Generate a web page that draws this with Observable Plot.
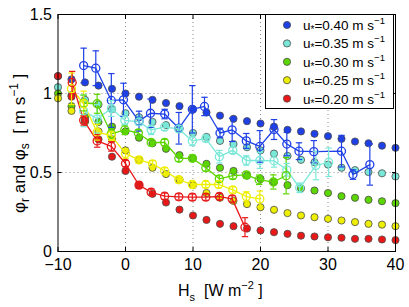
<!DOCTYPE html>
<html><head><meta charset="utf-8">
<script src="https://cdn.jsdelivr.net/npm/d3@7"></script>
<script src="https://cdn.jsdelivr.net/npm/@observablehq/plot@0.6"></script>
<style>body{margin:0;background:#fff} svg{display:block}</style>
</head><body><div id="chart"></div>
<script>
// ---- data ----
const series = ["0.40", "0.35", "0.30", "0.25", "0.20"];
const colors = ["#1e40e6", "#7ae8d8", "#5cd600", "#eeee00", "#e81818"];
const hsGrid = [-10,-8,-6,-4,-2,0,2,4,6,8,10,12,14,16,18,20,22,24,26,28,30,32,34,36,38,40];
const xTicks = [-10, 0, 10, 20, 30, 40];
const yTicks = [0, 0.5, 1, 1.5];

// filled dots (phi_r)
const phiR040 = [1.11,1.09,1.07,1.05,1.03,1.00,0.98,0.96,0.94,0.92,0.90,0.88,0.86,0.84,0.825,0.81,0.79,0.77,0.76,0.745,0.73,0.713,0.696,0.685,0.67,0.656];
const phiR035 = [1.04,0.99,0.96,0.93,0.90,0.875,0.85,0.82,0.80,0.775,0.75,0.725,0.70,0.68,0.66,0.64,0.62,0.605,0.58,0.565,0.55,0.53,0.515,0.503,0.495,0.475];
const phiR030 = [1.00,0.92,0.85,0.82,0.79,0.76,0.72,0.685,0.65,0.61,0.59,0.555,0.53,0.51,0.48,0.46,0.44,0.42,0.40,0.386,0.37,0.35,0.34,0.327,0.318,0.306];
const phiR025 = [0.97,0.89,0.82,0.76,0.71,0.64,0.58,0.53,0.49,0.455,0.42,0.37,0.34,0.32,0.30,0.28,0.264,0.243,0.228,0.217,0.207,0.196,0.186,0.175,0.17,0.16];
const phiR020 = [1.11,0.98,0.83,0.71,0.60,0.51,0.42,0.365,0.31,0.265,0.228,0.20,0.175,0.16,0.145,0.133,0.122,0.112,0.10,0.095,0.09,0.087,0.08,0.08,0.076,0.072];

// open circles with error bars (phi_s)
const sX040 = [-6.2,-4.4,-2.1,-0.3,2,3.7,5.8,7.9,9.9,11.7,14,15.8,17.9,19.9,22,23.9,25.7,27.9,32,33.7,36.2];
const sY040 = [1.177,1.16,0.956,0.96,0.825,0.875,0.87,0.78,0.90,0.918,0.75,0.77,0.70,0.665,0.772,0.68,0.635,0.632,0.635,0.487,0.55];
const sE040 = [0.11,0.11,0.17,0.105,0.063,0.09,0.03,0.10,0.15,0.058,0.03,0.074,0.047,0.10,0.063,0.074,0.053,0.07,0.10,0.03,0.13];
const sX035 = [-6.2,-4.2,-2.1,-0.1,2,3.8,5.8,7.9,9.9,11.9,13.9,15.9,17.9,19.9,22,23.9,25.8,28.2,30.1];
const sY035 = [0.89,0.84,0.905,0.83,0.82,0.77,0.787,0.776,0.70,0.715,0.60,0.64,0.576,0.576,0.574,0.517,0.403,0.544,0.565];
const sE035 = [0.10,0.09,0.05,0.03,0.02,0.03,0.02,0.02,0.03,0.02,0.04,0.02,0.03,0.05,0.04,0.04,0.03,0.09,0.09];
const sX030 = [-6.2,-4.2,-2.1,-0.1,1.9,3.8,5.8,7.9,9.9,11.9,13.9,15.9,17.9,19.8,21.9,23.8];
const sY030 = [0.94,0.935,0.745,0.77,0.75,0.69,0.69,0.59,0.59,0.53,0.46,0.48,0.485,0.454,0.44,0.48];
const sE030 = [0.05,0.06,0.03,0.03,0.02,0.02,0.02,0.02,0.02,0.02,0.02,0.02,0.02,0.03,0.045,0.115];
const sX025 = [-8,-6.2,-4.2,-2.1,0,2,4,5.8,7.9,9.9,11.9,13.8,15.9,17.9,19.9];
const sY025 = [1.03,0.935,0.755,0.734,0.62,0.58,0.555,0.51,0.454,0.424,0.424,0.424,0.39,0.348,0.333];
const sE025 = [0.10,0.08,0.05,0.03,0.03,0.02,0.02,0.02,0.02,0.02,0.02,0.02,0.02,0.03,0.05];
const sX020 = [-7.9,-6.2,-4.2,-2.1,0,2,3.8,5.8,7.9,9.9,11.9,13.9,15.8,17.7];
const sY020 = [1.07,0.83,0.70,0.665,0.557,0.42,0.375,0.35,0.346,0.344,0.344,0.348,0.333,0.154];
const sE020 = [0.07,0.03,0.04,0.03,0.02,0.02,0.02,0.02,0.02,0.02,0.02,0.02,0.02,0.06];

// ---- tables ----
const phiR = [phiR040, phiR035, phiR030, phiR025, phiR020];
const sX = [sX040, sX035, sX030, sX025, sX020];
const sY = [sY040, sY035, sY030, sY025, sY020];
const sE = [sE040, sE035, sE030, sE025, sE020];
const filled = series.flatMap((s, i) => hsGrid.map((x, j) => ({s, x, y: phiR[i][j]})));
const lines = series.flatMap((s, i) => sX[i].map((x, j) => ({s, x, y: sY[i][j], e: sE[i][j]})));

const cap = {draw(ctx, size) { const r = Math.sqrt(size / Math.PI); ctx.moveTo(-r, 0); ctx.lineTo(r, 0); }};
const gridStyle = {stroke: "#8c8c8c", strokeOpacity: 1, strokeWidth: 1, strokeDasharray: "1,3"};
const FONT = "'Liberation Sans', Arial, sans-serif";

const plot = Plot.plot({
  width: 409, height: 307,
  marginLeft: 57.5, marginRight: 14, marginTop: 14, marginBottom: 56,
  x: {domain: [-10, 40]},
  y: {domain: [0, 1.5]},
  color: {type: "ordinal", domain: series, range: colors},
  style: {fontFamily: FONT, fontSize: "16px", color: "#000", background: "#fff", overflow: "visible"},
  marks: [
    Plot.gridX(xTicks.slice(1, -1), gridStyle),
    Plot.gridY(yTicks.slice(1, -1), gridStyle),
    Plot.dot(filled, {x: "x", y: "y", fill: "s", stroke: "#4a4a4a", strokeWidth: 0.8, r: 3.6}),
    Plot.line(lines, {x: "x", y: "y", z: "s", stroke: "s", strokeWidth: 1.3}),
    Plot.ruleX(lines, {x: "x", y1: d => d.y - d.e, y2: d => d.y + d.e, stroke: "s", strokeWidth: 1.2}),
    Plot.dot(lines, {x: "x", y: d => d.y + d.e, symbol: cap, r: 3.2, stroke: "s", fill: "none", strokeWidth: 1.2}),
    Plot.dot(lines, {x: "x", y: d => d.y - d.e, symbol: cap, r: 3.2, stroke: "s", fill: "none", strokeWidth: 1.2}),
    Plot.dot(lines, {x: "x", y: "y", stroke: "s", fill: "none", r: 4, strokeWidth: 1.3}),
    Plot.frame({stroke: "#000", strokeWidth: 1}),
    Plot.axisX({ticks: xTicks, tickSize: -4, tickPadding: 11, tickFormat: d => d < 0 ? "\u2212" + Math.abs(d) : String(d), label: null, fontSize: 16}),
    Plot.axisX({anchor: "top", ticks: xTicks, tickSize: -4, tickFormat: () => "", label: null}),
    Plot.axisY({ticks: yTicks, tickSize: -4, tickPadding: 10, tickFormat: d => String(d), label: null, fontSize: 16}),
    Plot.axisY({anchor: "right", ticks: yTicks, tickSize: -4, tickFormat: () => "", label: null})
  ]
});
document.getElementById("chart").appendChild(plot);

const svg = d3.select(plot);
// legend
const lg = svg.append("g").attr("font-family", FONT).attr("text-anchor", "start");
lg.append("rect").attr("x", 265.5).attr("y", 14.5).attr("width", 128).attr("height", 94)
  .attr("fill", "#fff").attr("stroke", "#000").attr("stroke-width", 1);
series.forEach((s, i) => {
  const cy = 25 + i * 18.4;
  lg.append("circle").attr("cx", 287).attr("cy", cy).attr("r", 3.6)
    .attr("fill", colors[i]).attr("stroke", "#4a4a4a").attr("stroke-width", 0.8);
  const t = lg.append("text").attr("x", 303).attr("y", cy + 5).attr("font-size", 13.5)
    .attr("fill", "#000").attr("text-anchor", "start");
  t.append("tspan").text("u");
  t.append("tspan").attr("dy", 3).attr("font-size", 10).text("*");
  t.append("tspan").attr("dy", -3).text("=" + s + " m s");
  t.append("tspan").attr("dy", -6).attr("font-size", 9.5).text("\u22121");
});

// axis labels
const yl = svg.append("text").attr("transform", "translate(25,213) rotate(-90)")
  .attr("text-anchor", "start").attr("font-size", 17).attr("fill", "#000")
  .attr("font-family", FONT);
yl.append("tspan").text("\u03c6");
yl.append("tspan").attr("dy", 4).attr("font-size", 12).text("r");
yl.append("tspan").attr("dy", -4).text(" and \u03c6");
yl.append("tspan").attr("dy", 4).attr("font-size", 12).text("s");
yl.append("tspan").attr("dy", -4).text("  [ m s");
yl.append("tspan").attr("dy", -7).attr("font-size", 12).text("\u22121");
yl.append("tspan").attr("dy", 7).text(" ]");

const xl = svg.append("text").attr("x", 178).attr("y", 296)
  .attr("text-anchor", "start").attr("font-size", 16).attr("fill", "#000")
  .attr("font-family", FONT);
xl.append("tspan").text("H");
xl.append("tspan").attr("dy", 5).attr("font-size", 11).text("s");
xl.append("tspan").attr("dy", -5).text("  [W m");
xl.append("tspan").attr("dy", -7).attr("font-size", 11).text("\u22122");
xl.append("tspan").attr("dy", 7).text(" ]");
</script>
</body></html>
